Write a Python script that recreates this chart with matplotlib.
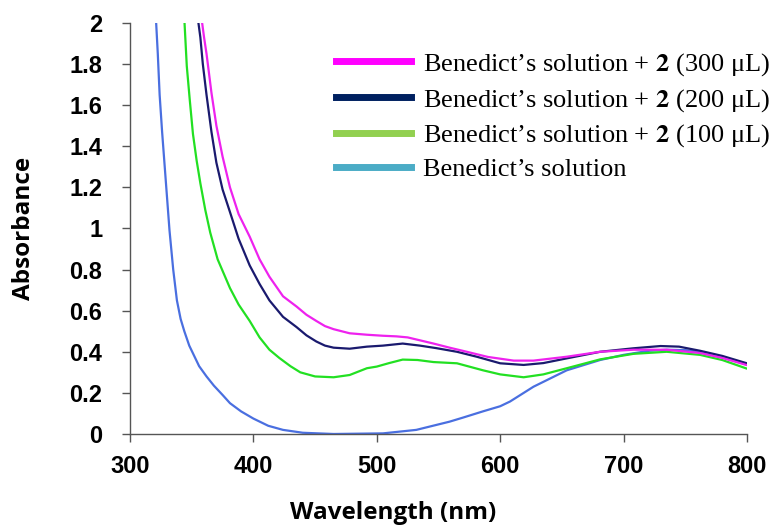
import matplotlib
matplotlib.use("Agg")
import matplotlib.pyplot as plt
from matplotlib.lines import Line2D
from matplotlib.ticker import FuncFormatter

# (wavelength in nm, absorbance)
wl_blank = [321, 322.5, 324, 326, 328, 330, 332, 335, 338, 341, 344, 348, 352, 356, 362, 368, 375,
            381, 390, 400, 412, 424, 440, 465, 505, 532, 559, 570, 586, 600, 608, 627, 654, 681,
            700, 721, 735, 750, 762, 780, 800]
abs_blank = [2.02, 1.85, 1.65, 1.47, 1.31, 1.15, 0.99, 0.80, 0.65, 0.56, 0.50, 0.43, 0.38, 0.33, 0.28, 0.235, 0.19,
             0.15, 0.11, 0.075, 0.04, 0.02, 0.006, 0.0, 0.003, 0.02, 0.06, 0.08, 0.11, 0.135, 0.158, 0.23, 0.31, 0.36,
             0.385, 0.405, 0.41, 0.408, 0.40, 0.375, 0.34]

wl_100 = [344, 346, 348.5, 351, 354, 357, 361, 365, 371, 376, 381, 388, 397, 405, 413, 421, 430, 438,
          450, 465, 478, 492, 500, 510, 521, 533, 546, 565, 586, 600, 619, 635, 654, 681, 708, 735,
          762, 780, 800]
abs_100 = [2.02, 1.79, 1.62, 1.46, 1.33, 1.22, 1.09, 0.98, 0.85, 0.78, 0.71, 0.63, 0.55, 0.47, 0.41, 0.37, 0.33, 0.30,
           0.28, 0.276, 0.287, 0.32, 0.328, 0.345, 0.362, 0.36, 0.35, 0.344, 0.31, 0.29, 0.276, 0.29, 0.32, 0.363, 0.39, 0.40,
           0.385, 0.36, 0.318]

wl_200 = [355, 357, 359, 362, 366, 370, 375, 381, 388, 397, 405, 413, 424, 435, 443, 451, 458, 465,
          478, 492, 505, 521, 535, 548, 565, 581, 600, 619, 635, 654, 681, 708, 730, 745, 762, 780, 800]
abs_200 = [2.02, 1.93, 1.80, 1.65, 1.47, 1.32, 1.19, 1.08, 0.95, 0.82, 0.73, 0.65, 0.57, 0.52, 0.48, 0.45, 0.43, 0.42,
           0.415, 0.425, 0.43, 0.44, 0.43, 0.418, 0.40, 0.376, 0.344, 0.336, 0.345, 0.368, 0.40, 0.417, 0.428, 0.425,
           0.405, 0.38, 0.344]

wl_300 = [358, 360, 362, 366, 370, 375, 381, 388, 397, 405, 413, 424, 435, 443, 451, 458, 465, 478,
          492, 505, 516, 525, 546, 559, 573, 590, 611, 627, 654, 681, 708, 735, 762, 780, 800]
abs_300 = [2.02, 1.93, 1.85, 1.66, 1.50, 1.35, 1.20, 1.07, 0.96, 0.85, 0.765, 0.67, 0.62, 0.58, 0.55, 0.525, 0.51, 0.49,
           0.483, 0.478, 0.475, 0.47, 0.44, 0.42, 0.40, 0.375, 0.357, 0.357, 0.376, 0.40, 0.41, 0.41, 0.394, 0.37, 0.335]

labels = ["Benedict\u2019s solution + $\\mathbf{2}$ (300 \u03bcL)",
          "Benedict\u2019s solution + $\\mathbf{2}$ (200 \u03bcL)",
          "Benedict\u2019s solution + $\\mathbf{2}$ (100 \u03bcL)",
          "Benedict\u2019s solution"]
legend_colors = ["#FF00FF", "#002060", "#92D050", "#4BACC6"]

plt.rcParams["mathtext.fontset"] = "stix"

fig = plt.figure(figsize=(7.74, 5.29), dpi=100)
ax = fig.add_axes([0.168, 0.1796, 0.797, 0.777])

kw = dict(lw=1.6, solid_joinstyle="round", solid_capstyle="round")
ax.plot(wl_blank, abs_blank, color="#4A6FE0", **kw)
ax.plot(wl_100, abs_100, color="#22E022", **kw)
ax.plot(wl_200, abs_200, color="#1A1A6E", **kw)
ax.plot(wl_300, abs_300, color="#EE22EE", **kw)

ax.set_xlim(300, 800)
ax.set_ylim(0, 2)
ax.set_xticks([300, 400, 500, 600, 700, 800])
ax.set_yticks([0, 0.2, 0.4, 0.6, 0.8, 1.0, 1.2, 1.4, 1.6, 1.8, 2.0])
ax.yaxis.set_major_formatter(FuncFormatter(lambda v, p: "%g" % round(v, 1)))

for s in ["top", "right"]:
    ax.spines[s].set_visible(False)
for s in ["left", "bottom"]:
    ax.spines[s].set_color("#555555")
    ax.spines[s].set_linewidth(1.0)
ax.tick_params(direction="out", length=6, width=1, color="#555555")
ax.tick_params(axis="y", pad=14)
ax.tick_params(axis="x", pad=9)
for lab in ax.get_xticklabels() + ax.get_yticklabels():
    lab.set_fontfamily("Liberation Sans")
    lab.set_fontweight("bold")
    lab.set_fontsize(17)

ax.set_xlabel("Wavelength (nm)", fontfamily="Open Sans", fontweight="bold", fontsize=17.5)
ax.set_ylabel("Absorbance", fontfamily="Open Sans", fontweight="bold", fontsize=17.5)
ax.xaxis.set_label_coords(0.426, -0.163)
ax.yaxis.set_label_coords(-0.153, 0.5)

handles = [Line2D([0], [0], color=c, lw=5) for c in legend_colors]
ax.legend(handles, labels, loc="upper left", bbox_to_anchor=(0.4335, 0.903),
          bbox_transform=fig.transFigure, frameon=False,
          prop={"family": "Liberation Serif", "size": 19}, handlelength=2.85, handletextpad=0.45,
          labelspacing=0.33, borderaxespad=0, borderpad=0)

fig.savefig("out.png", dpi=100)
